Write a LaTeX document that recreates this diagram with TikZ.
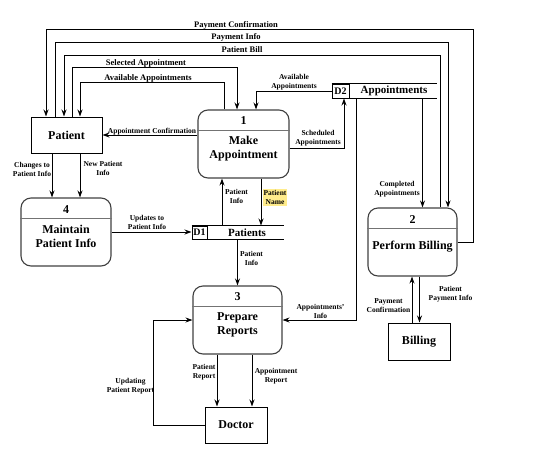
\documentclass[tikz,border=0pt]{standalone}
\usepackage{fontspec}
\setmainfont{Liberation Serif}
\usetikzlibrary{arrows.meta,calc}
\definecolor{markyellow}{RGB}{255,236,140}

\begin{document}
\begin{tikzpicture}[x=1pt,y=-1pt,
    flow/.style={-{Stealth[length=7pt,width=5pt]}, line width=1pt},
    ent/.style={draw, line width=1pt, inner sep=0pt, font=\bfseries\fontsize{12}{14}\selectfont},
    proc/.style={draw=black!75, line width=1.1pt, rounded corners=10pt, minimum width=90pt, minimum height=68pt, inner sep=0pt},
    ptext/.style={font=\bfseries\fontsize{12}{14}\selectfont, align=center, inner sep=0pt},
    divider/.style={draw=black!55, line width=1pt},
    store/.style={draw, line width=1pt, inner sep=0pt, minimum height=13pt, font=\bfseries\fontsize{10}{12}\selectfont},
    storeline/.style={line width=1pt},
    stext/.style={font=\bfseries\fontsize{11}{13}\selectfont, inner sep=0pt},
    lane/.style={font=\bfseries\fontsize{8.5}{10}\selectfont, inner sep=0pt, anchor=base},
    lbl/.style={font=\bfseries\fontsize{7.5}{9}\selectfont, align=center, inner sep=0pt}
]
    \useasboundingbox (0,0) rectangle (540,453);

    % External entities
    \node[ent, minimum width=71pt, minimum height=36pt] (patient) at (66.5,135) {Patient};
    \node[ent, minimum width=62pt, minimum height=37pt] (billing) at (419,341.5) {Billing};
    \node[ent, minimum width=62pt, minimum height=36pt] (doctor) at (236,425) {Doctor};

    % Processes
    \node[proc, minimum width=91pt] (mkapp) at (243.5,144) {};
    \node[ptext] (mkappn) at (243.5,121) {1};
    \draw[divider] ($(mkapp.north west)+(0,21)$) -- ($(mkapp.north east)+(0,21)$);
    \node[ptext] (mkappt) at (243.5,149) {Make\\Appointment};

    \node[proc, minimum width=89pt] (bill) at (412.5,242) {};
    \node[ptext] (billn) at (412.5,220) {2};
    \draw[divider] ($(bill.north west)+(0,21)$) -- ($(bill.north east)+(0,21)$);
    \node[ptext] (billt) at (412.5,247) {Perform Billing};

    \node[proc, minimum width=89pt] (rep) at (237.5,320) {};
    \node[ptext] (repn) at (237.5,297) {3};
    \draw[divider] ($(rep.north west)+(0,21)$) -- ($(rep.north east)+(0,21)$);
    \node[ptext] (rept) at (237.5,325) {Prepare\\Reports};

    \node[proc] (maint) at (66,232) {};
    \node[ptext] (maintn) at (66,210) {4};
    \draw[divider] ($(maint.north west)+(0,21)$) -- ($(maint.north east)+(0,21)$);
    \node[ptext] (maintt) at (66,236.5) {Maintain\\Patient Info};

    % Data stores
    \node[store, minimum width=15pt] (d1) at (199.5,232.5) {D1};
    \draw[storeline] (d1.north west) -- ++(92,0);
    \draw[storeline] (d1.south west) -- ++(92,0);
    \node[stext] (d1t) at (247,232.5) {Patients};

    \node[store, minimum width=17pt, minimum height=14pt] (d2) at (340.5,91) {D2};
    \draw[storeline] (d2.north west) -- ++(105,0);
    \draw[storeline] (d2.south west) -- ++(105,0);
    \node[stext] (d2t) at (394,91) {Appointments};

    % Top lanes between Patient, Make Appointment and Perform Billing
    \draw[flow] (bill.east) -| (473,29) -| ([xshift=-20.5]patient.north);
    \node[lane] (lpayconf) at (236,27) {Payment Confirmation};
    \draw[flow] ([xshift=-11.5]patient.north) |- (448,42) -- ([xshift=35.5]bill.north);
    \node[lane] (lpayinfo) at (236,39.5) {Payment Info};
    \draw[flow] ([xshift=27.5]bill.north) |- (64,55) -- ([xshift=-2.5]patient.north);
    \node[lane] (lbill) at (242,52.5) {Patient Bill};
    \draw[flow] ([xshift=5.5]patient.north) |- (237,67) -- ([xshift=-6.5]mkapp.north);
    \node[lane] (lsel) at (146,65) {Selected Appointment};
    \draw[flow] ([xshift=-19.5]mkapp.north) |- (80,82) -- ([xshift=13.5]patient.north);
    \node[lane] (lavail) at (148,80) {Available Appointments};

    % Make Appointment
    \draw[flow] (mkapp.west |- patient.east) -- (patient.east);
    \node[lane, font=\bfseries\fontsize{7.5}{9}\selectfont] (lconf) at (152,133.5) {Appointment Confirmation};
    \draw[flow] (d2.west) -| ([xshift=12.5]mkapp.north);
    \node[lbl] (lavail2) at (294,82) {Available\\Appointments};
    \draw[flow] ([yshift=-4]mkapp.east) -| ([xshift=3.5]d2.south);
    \node[lbl] (lsched) at (318,138.5) {Scheduled\\Appointments};
    \draw[flow] ([xshift=-21.5]mkapp.south |- d1.north) -- ([xshift=-21.5]mkapp.south);
    \node[lbl] (lpinfo) at (236.5,196.5) {Patient\\Info};
    \draw[flow] ([xshift=17.5]mkapp.south) -- ([xshift=17.5]mkapp.south |- d1.north);
    \node[lbl, fill=markyellow, inner sep=1pt] (lpname) at (275,197.5) {Patient\\Name};

    % Patient and Maintain Patient Info
    \draw[flow] ([xshift=-14.5]patient.south) -- ([xshift=-14.5]patient.south |- maint.north);
    \node[lbl] (lchg) at (32,169) {Changes to\\Patient Info};
    \draw[flow] ([xshift=13.5]patient.south) -- ([xshift=13.5]patient.south |- maint.north);
    \node[lbl] (lnew) at (103,168.5) {New Patient\\Info};
    \draw[flow] (maint.east) -- (maint.east -| d1.west);
    \node[lbl] (lupd) at (147,222.5) {Updates to\\Patient Info};

    % Prepare Reports
    \draw[flow] (rep.north |- d1.south) -- (rep.north);
    \node[lbl] (lpinfo2) at (251.5,258) {Patient\\Info};
    \draw[flow] ([xshift=15.5]d2.south) |- (rep.east);
    \node[lbl] (lappinfo) at (320.5,311.5) {Appointments'\\Info};
    \draw[flow] ([xshift=-20.5]rep.south) -- ([xshift=-20.5]rep.south |- doctor.north);
    \node[lbl] (lprep) at (204,372.5) {Patient\\Report};
    \draw[flow] ([xshift=14.5]rep.south) -- ([xshift=14.5]rep.south |- doctor.north);
    \node[lbl] (larep) at (276,376.5) {Appointment\\Report};
    \draw[flow] (doctor.west) -| ([xshift=-38.5]rep.west) -- (rep.west);
    \node[lbl] (lupdrep) at (130.5,386) {Updating\\Patient Report};

    % Perform Billing
    \draw[flow] ([xshift=10]bill.north |- d2.south) -- ([xshift=10]bill.north);
    \node[lbl] (lcomp) at (397,189) {Completed\\Appointments};
    \draw[flow] ([xshift=-7]billing.north) -- ([xshift=-7]billing.north |- bill.south);
    \node[lbl] (lpconf) at (388.5,306) {Payment\\Confirmation};
    \draw[flow] ([xshift=7]bill.south) -- ([xshift=7]bill.south |- billing.north);
    \node[lbl] (lppay) at (450.5,294) {Patient\\Payment Info};

\end{tikzpicture}
\end{document}
